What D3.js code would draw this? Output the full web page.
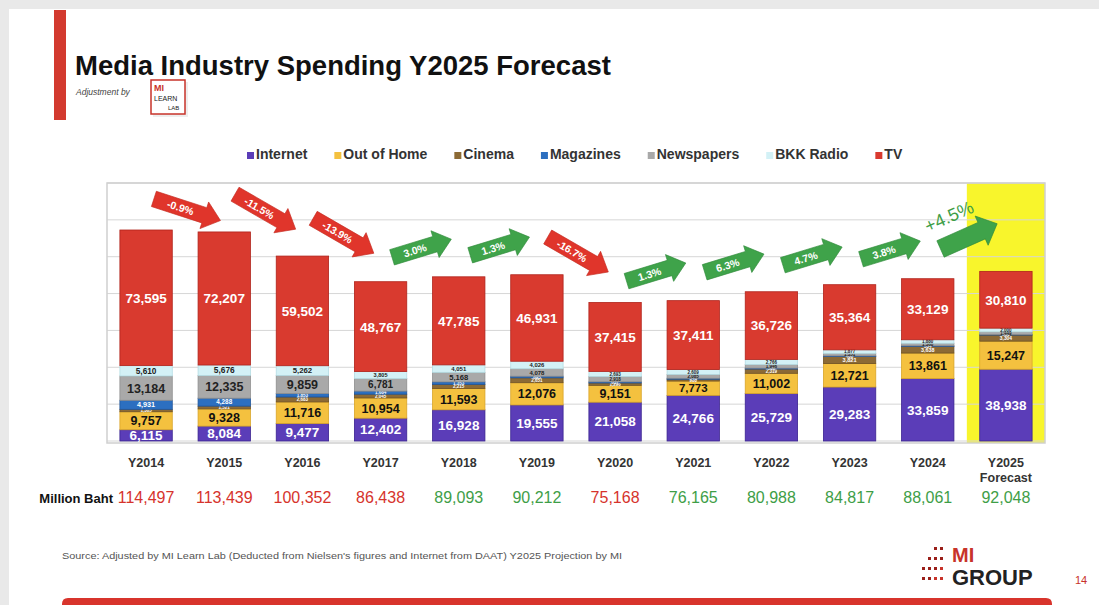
<!DOCTYPE html>
<html>
<head>
<meta charset="utf-8">
<script src="https://cdn.jsdelivr.net/npm/d3@7"></script>
<style>
  body { margin: 0; background: #fff; }
  svg { display: block; font-family: "Liberation Sans", Arial, sans-serif; }
</style>
</head>
<body>
<div id="chart"></div>
<script>
// data (million baht)
const years = ["Y2014", "Y2015", "Y2016", "Y2017", "Y2018", "Y2019", "Y2020", "Y2021", "Y2022", "Y2023", "Y2024", "Y2025"];
const yearSub = ["", "", "", "", "", "", "", "", "", "", "", "Forecast"];

const internet   = [6115, 8084, 9477, 12402, 16928, 19555, 21058, 24766, 25729, 29283, 33859, 38938];
const outOfHome  = [9757, 9328, 11716, 10954, 11593, 12076, 9151, 7773, 11002, 12721, 13861, 15247];
const cinema     = [1305, 1521, 2683, 2045, 2215, 2651, 1296, 980, 2319, 3821, 3638, 3304];
const magazines  = [4931, 4288, 1853, 1684, 1353, 895, 637, 541, 500, 400, 334, 300];
const newspapers = [13184, 12335, 9859, 6781, 5168, 4078, 2918, 2085, 1946, 1351, 1360, 1449];
const bkkRadio   = [5610, 5676, 5262, 3805, 4051, 4026, 2693, 2609, 2766, 1877, 1880, 2000];
const tv         = [73595, 72207, 59502, 48767, 47785, 46931, 37415, 37411, 36726, 35364, 33129, 30810];

const totals   = [114497, 113439, 100352, 86438, 89093, 90212, 75168, 76165, 80988, 84817, 88061, 92048];
const totalsUp = [false, false, false, false, true, true, false, true, true, true, true, true];

// year-over-year arrows between bars
const changes   = ["-0.9%", "-11.5%", "-13.9%", "3.0%", "1.3%", "-16.7%", "1.3%", "6.3%", "4.7%", "3.8%", "+4.5%"];
const changesUp = [false, false, false, true, true, false, true, true, true, true, true];

const seriesNames = ["Internet", "Out of Home", "Cinema", "Magazines", "Newspapers", "BKK Radio", "TV"];
const seriesData = [internet, outOfHome, cinema, magazines, newspapers, bkkRadio, tv];
const seriesColors = ["#5b3db8", "#f4c13f", "#8c6a35", "#2c6fc0", "#a9a9a9", "#d3f1f6", "#d93a2f"];
const labelColors = ["#fff", "#111", "#fff", "#fff", "#222", "#222", "#fff"];
const strokeColors = ["#3b2490", "#d9a52a", "#6e5225", "#1f5499", "#8f8f8f", "#b5dde4", "#b0231b"];

const W = 1099, H = 605;
const svg = d3.select("#chart").append("svg")
    .attr("width", W)
    .attr("height", H);

// slide frame (photo of a slide: grey edge at top/left)
svg.append("rect").attr("width", W).attr("height", H).attr("fill", "#e9e9e9");
svg.append("rect").attr("x", 9).attr("y", 9).attr("width", W - 9).attr("height", H - 9).attr("fill", "#fff");

// header
svg.append("rect").attr("x", 54).attr("y", 10).attr("width", 12).attr("height", 110).attr("fill", "#d33a2f");
svg.append("text")
    .attr("x", 75).attr("y", 75)
    .attr("font-size", 27.5).attr("font-weight", "bold").attr("fill", "#111")
    .text("Media Industry Spending Y2025 Forecast");
svg.append("text")
    .attr("x", 76).attr("y", 95)
    .attr("font-size", 8.5).attr("font-style", "italic").attr("fill", "#444")
    .text("Adjustment by");

// MI LEARN LAB badge
const badge = svg.append("g").attr("transform", "translate(151,80)");
badge.append("rect").attr("x", 2).attr("y", 2).attr("width", 35).attr("height", 35).attr("fill", "#eee");
badge.append("rect").attr("width", 34).attr("height", 34).attr("fill", "#fff").attr("stroke", "#c8332a").attr("stroke-width", 1.5);
badge.append("text").attr("x", 3).attr("y", 11).attr("font-size", 9).attr("font-weight", "bold").attr("fill", "#c8332a").text("MI");
badge.append("text").attr("x", 3).attr("y", 21).attr("font-size", 7).attr("fill", "#222").text("LEARN");
badge.append("text").attr("x", 17).attr("y", 30).attr("font-size", 6).attr("fill", "#222").text("LAB");

// legend
const legend = svg.append("g").attr("transform", "translate(0,159)");
let lx = 247;
seriesNames.forEach((name, i) => {
    legend.append("rect")
        .attr("x", lx).attr("y", -7).attr("width", 7).attr("height", 7)
        .attr("fill", seriesColors[i]);
    const t = legend.append("text")
        .attr("x", lx + 9).attr("y", 0)
        .attr("font-size", 14).attr("font-weight", "bold").attr("fill", "#333")
        .text(name);
    lx += 9 + t.node().getComputedTextLength() + 27;
});

// plot area
const margin = { top: 183, left: 107, right: W - 1045, bottom: H - 441 };
const plotW = W - margin.left - margin.right;
const plotH = H - margin.top - margin.bottom;
const g = svg.append("g").attr("transform", "translate(" + margin.left + "," + margin.top + ")");

const x = d3.scaleBand().domain(years).range([0, plotW]).paddingInner(0.33).paddingOuter(0.165);
const xStep = d3.scaleBand().domain(years).range([0, plotW]);
const y = d3.scaleLinear().domain([0, 140000]).range([plotH, 0]);

// highlighted forecast column
g.append("rect")
    .attr("x", xStep("Y2025")).attr("y", 0)
    .attr("width", xStep.bandwidth()).attr("height", plotH + 2)
    .attr("fill", "#f8f52c");

// gridlines
g.append("g")
    .selectAll("line")
    .data(y.ticks(7))
    .join("line")
    .attr("x1", 0).attr("x2", plotW)
    .attr("y1", d => y(d)).attr("y2", d => y(d))
    .attr("stroke", "#d6d6d6");

g.append("rect")
    .attr("width", plotW).attr("height", plotH + 2)
    .attr("fill", "none").attr("stroke", "#cfcfcf").attr("stroke-width", 1.5);

// stacked bars
const table = years.map((yr, i) => {
    const row = { year: yr };
    seriesNames.forEach((s, k) => row[s] = seriesData[k][i]);
    return row;
});
const stacked = d3.stack().keys(seriesNames)(table);

const layers = g.selectAll(".layer")
    .data(stacked)
    .join("g")
    .attr("class", "layer");

layers.selectAll("rect")
    .data((d, k) => d.map(v => ({ v: v, k: k })))
    .join("rect")
    .attr("x", d => x(d.v.data.year))
    .attr("y", d => y(d.v[1]))
    .attr("width", x.bandwidth())
    .attr("height", d => y(d.v[0]) - y(d.v[1]))
    .attr("fill", d => seriesColors[d.k])
    .attr("stroke", d => strokeColors[d.k])
    .attr("stroke-width", 0.8);

layers.selectAll("text")
    .data((d, k) => d.map(v => ({ v: v, k: k })))
    .join("text")
    .attr("x", d => x(d.v.data.year) + x.bandwidth() / 2)
    .attr("y", d => (y(d.v[0]) + y(d.v[1])) / 2)
    .attr("dy", "0.36em")
    .attr("text-anchor", "middle")
    .attr("font-weight", "bold")
    .attr("font-size", d => {
        const h = y(d.v[0]) - y(d.v[1]);
        if (d.k === 0 || d.k === 6) return 13.5;
        return Math.min(12.5, Math.max(4.5, h * 0.8));
    })
    .attr("fill", d => labelColors[d.k])
    .text(d => d3.format(",")(d.v[1] - d.v[0]));

// category labels
const xLabels = g.append("g").attr("transform", "translate(0," + (plotH + 26) + ")");
years.forEach((yr, i) => {
    const cx = x(yr) + x.bandwidth() / 2;
    xLabels.append("text")
        .attr("x", cx).attr("y", 0)
        .attr("text-anchor", "middle").attr("font-size", 12.5).attr("font-weight", "bold").attr("fill", "#333")
        .text(yr);
    if (yearSub[i]) {
        xLabels.append("text")
            .attr("x", cx).attr("y", 15)
            .attr("text-anchor", "middle").attr("font-size", 12.5).attr("font-weight", "bold").attr("fill", "#333")
            .text(yearSub[i]);
    }
});

// totals row
const totalRow = g.append("g").attr("transform", "translate(0," + (plotH + 62) + ")");
totalRow.append("text")
    .attr("x", 6).attr("y", 0)
    .attr("text-anchor", "end").attr("font-size", 13).attr("font-weight", "bold").attr("fill", "#111")
    .text("Million Baht");
totalRow.selectAll(".total")
    .data(totals)
    .join("text")
    .attr("class", "total")
    .attr("x", (d, i) => x(years[i]) + x.bandwidth() / 2)
    .attr("y", 0)
    .attr("text-anchor", "middle").attr("font-size", 16)
    .attr("fill", (d, i) => totalsUp[i] ? "#3e9e47" : "#d6332c")
    .text(d => d3.format(",")(d));

// change arrows
function arrowPath(len, body, head, headLen) {
    const b = body / 2, hh = head / 2;
    return "M" + (-len / 2) + "," + (-b) +
        "L" + (len / 2 - headLen) + "," + (-b) +
        "L" + (len / 2 - headLen) + "," + (-hh) +
        "L" + (len / 2) + ",0" +
        "L" + (len / 2 - headLen) + "," + hh +
        "L" + (len / 2 - headLen) + "," + b +
        "L" + (-len / 2) + "," + b + "Z";
}

changes.forEach((c, i) => {
    const x0 = x(years[i]) + x.bandwidth() / 2;
    const x1 = x(years[i + 1]) + x.bandwidth() / 2;
    const top = Math.max(totals[i], totals[i + 1]);
    const last = i === changes.length - 1;
    const up = changesUp[i];
    const cx = (x0 + x1) / 2 + 2;
    const cy = y(top + (last ? 19000 : up ? 15500 : 11000));
    const angle = up ? (last ? -24 : -17) : (i === 0 ? 18 : 30);
    const len = last ? 62 : (up ? 62 : 70);
    const a = g.append("g").attr("transform", "translate(" + cx + "," + cy + ") rotate(" + angle + ")");
    a.append("path")
        .attr("d", arrowPath(len, last ? 18 : 16, last ? 32 : 28, 17))
        .attr("fill", up ? "#3fa34a" : "#e0352b")
        .attr("stroke", up ? "#2f8a3a" : "#c42a20")
        .attr("stroke-width", 0.6);
    if (last) {
        a.append("text")
            .attr("x", -10).attr("y", -20)
            .attr("text-anchor", "middle").attr("font-size", 18).attr("fill", "#3e9e47")
            .text(c);
    } else {
        a.append("text")
            .attr("x", -7).attr("y", 0).attr("dy", "0.36em")
            .attr("text-anchor", "middle").attr("font-size", 10.5).attr("font-weight", "bold").attr("fill", "#fff")
            .text(c);
    }
});

// footer
svg.append("text")
    .attr("x", 62).attr("y", 559)
    .attr("font-size", 9).attr("fill", "#555")
    .attr("textLength", 560).attr("lengthAdjust", "spacingAndGlyphs")
    .text("Source: Adjusted by MI Learn Lab (Deducted  from Nielsen's figures and Internet from DAAT) Y2025 Projection by MI");

const logo = svg.append("g").attr("transform", "translate(922,545)");
d3.range(4).forEach(r => d3.range(4).forEach(cI => {
    if (r + cI < 2) return;
    logo.append("rect")
        .attr("x", cI * 6).attr("y", r * 10 + 2)
        .attr("width", 3).attr("height", 3)
        .attr("fill", r + cI > 4 ? "#c8332a" : "#9a1f1a");
}));
logo.append("text").attr("x", 30).attr("y", 17).attr("font-size", 20).attr("font-weight", "bold").attr("fill", "#c8332a").text("MI");
logo.append("text").attr("x", 30).attr("y", 40).attr("font-size", 22).attr("font-weight", "bold").attr("fill", "#222").text("GROUP");
svg.append("text").attr("x", 1075).attr("y", 584).attr("font-size", 11).attr("fill", "#c8332a").text("14");

svg.append("path")
    .attr("d", "M62,605 L62,604 Q62,598 68,598 L1046,598 Q1052,598 1052,604 L1052,605 Z")
    .attr("fill", "#d8342c");
</script>
</body>
</html>
